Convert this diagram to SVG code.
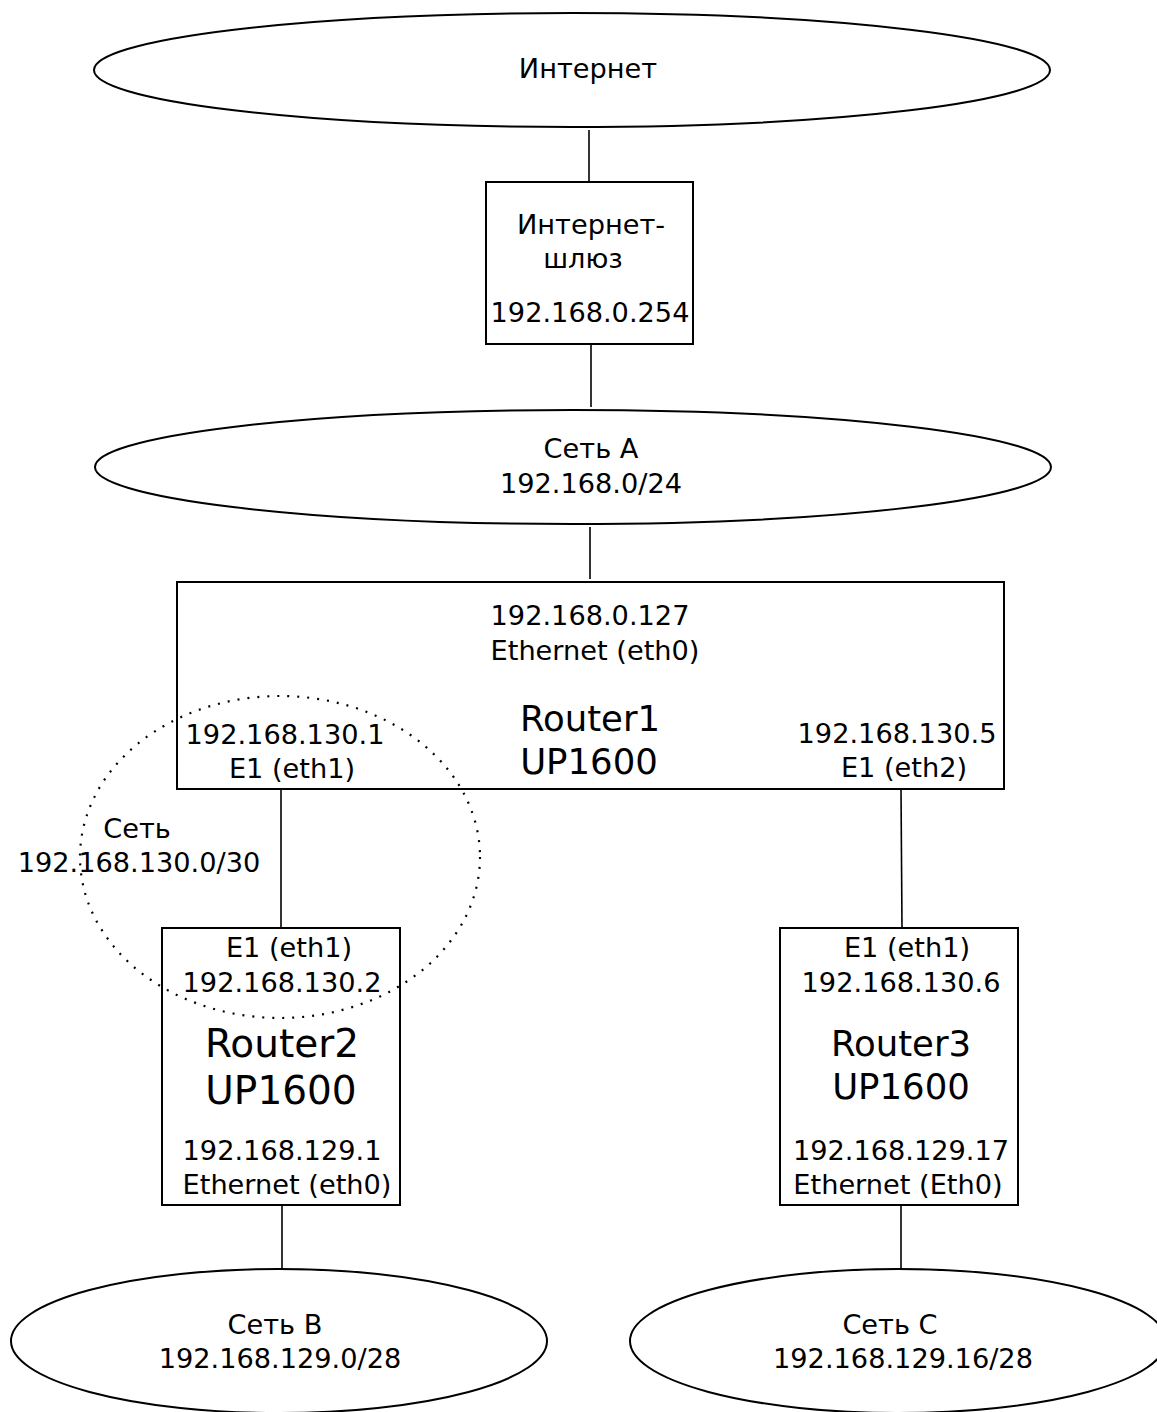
<svg xmlns="http://www.w3.org/2000/svg" width="1157" height="1412" viewBox="0 0 1157 1412">
<style>
.s{fill:#fff;stroke:#000;stroke-width:2}
.e{fill:none;stroke:#000;stroke-width:2}
.c{stroke:#000;stroke-width:1.6;fill:none}
.d{fill:none;stroke:#000;stroke-width:2.2;stroke-dasharray:2 8}
text{font-family:"DejaVu Sans","Noto Sans",sans-serif;font-size:27.2px;fill:#000;text-anchor:middle}
.b{font-size:35.5px}
.bb{font-size:39px}
</style>
<rect width="1157" height="1412" fill="#fff"/>
<g id="connectors">
<line class="c" x1="589" y1="130" x2="589" y2="182"/>
<line class="c" x1="591" y1="342" x2="591" y2="407"/>
<line class="c" x1="590" y1="527" x2="590" y2="579"/>
<line class="c" x1="281" y1="789" x2="281" y2="928"/>
<line class="c" x1="901" y1="789" x2="902" y2="928"/>
<line class="c" x1="282" y1="1205" x2="282" y2="1268"/>
<line class="c" x1="901" y1="1205" x2="901" y2="1268"/>
</g>
<g id="internet">
<ellipse class="e" cx="572" cy="70" rx="478" ry="57"/>
<text x="588" y="78">Интернет</text>
</g>
<g id="gateway">
<rect class="s" x="486" y="182" width="207" height="162"/>
<text x="591" y="234">Интернет-</text>
<text x="583" y="268">шлюз</text>
<text x="590" y="322">192.168.0.254</text>
</g>
<g id="netA">
<ellipse class="e" cx="573" cy="467" rx="478" ry="57"/>
<text x="591" y="458">Сеть A</text>
<text x="591" y="493">192.168.0/24</text>
</g>
<g id="router1">
<rect class="s" x="177" y="582" width="827" height="207"/>
<text x="590" y="625">192.168.0.127</text>
<text x="595" y="660">Ethernet (eth0)</text>
<text class="b" x="590" y="731">Router1</text>
<text class="b" x="589" y="774">UP1600</text>
<text x="285" y="744">192.168.130.1</text>
<text x="292" y="778">E1 (eth1)</text>
<text x="897" y="743">192.168.130.5</text>
<text x="904" y="777">E1 (eth2)</text>
</g>
<g id="net130">
<ellipse class="d" cx="280" cy="857" rx="200" ry="161"/>
<text x="137" y="838">Сеть</text>
<text x="139" y="872">192.168.130.0/30</text>
</g>
<g id="router2">
<rect class="s" x="162" y="928" width="238" height="277" style="fill:none"/>
<text x="289" y="957">E1 (eth1)</text>
<text x="282" y="992">192.168.130.2</text>
<text class="bb" x="282" y="1057">Router2</text>
<text class="bb" x="281" y="1104">UP1600</text>
<text x="282" y="1160">192.168.129.1</text>
<text x="287" y="1194">Ethernet (eth0)</text>
</g>
<g id="router3">
<rect class="s" x="780" y="928" width="238" height="277"/>
<text x="907" y="957">E1 (eth1)</text>
<text x="901" y="992">192.168.130.6</text>
<text class="b" x="901" y="1056">Router3</text>
<text class="b" x="901" y="1099">UP1600</text>
<text x="901" y="1160">192.168.129.17</text>
<text x="898" y="1194">Ethernet (Eth0)</text>
</g>
<g id="netB">
<ellipse class="e" cx="279" cy="1341" rx="268" ry="72"/>
<text x="275" y="1334">Сеть B</text>
<text x="280" y="1368">192.168.129.0/28</text>
</g>
<g id="netC">
<ellipse class="e" cx="898" cy="1341" rx="268" ry="72"/>
<text x="890" y="1334">Сеть C</text>
<text x="903" y="1368">192.168.129.16/28</text>
</g>
</svg>
